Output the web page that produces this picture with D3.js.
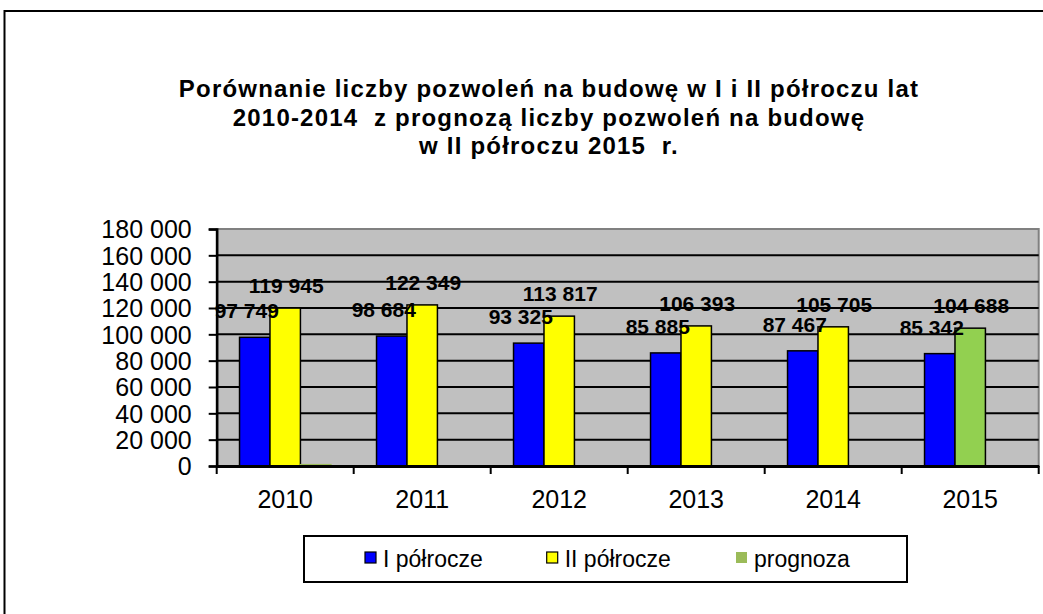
<!DOCTYPE html>
<html lang="pl">
<head>
    <meta charset="UTF-8">
    <title>Pozwolenia na budowę</title>
    <style>
        body {
            margin: 0;
            padding: 0;
            background-color: #ffffff;
        }
        svg text {
            font-family: Arial, "Liberation Sans", sans-serif;
            fill: #000;
        }
    </style>
    <script src="https://d3js.org/d3.v7.min.js"></script>
</head>
<body>
    <script>
        // dane
        const years = ["2010", "2011", "2012", "2013", "2014", "2015"];
        const seriesNames = ["I półrocze", "II półrocze", "prognoza"];
        const firstHalf = [97749, 98684, 93325, 85885, 87467, 85342];
        // w 2015 wartość II półrocza to prognoza (zielony słupek)
        const secondHalf = [119945, 122349, 113817, 106393, 105705, 104688];
        const forecastYears = ["2015"];
        const forecast = [1000, null, null, null, null, null];
        const yTicks = [0, 20000, 40000, 60000, 80000, 100000, 120000, 140000, 160000, 180000];
        const titleLines = [
            "Porównanie liczby pozwoleń na budowę w I i II półroczu lat",
            "2010-2014  z prognozą liczby pozwoleń na budowę",
            "w II półroczu 2015  r."
        ];

        const width = 1043;
        const height = 614;
        const colors = ["#0000FF", "#FFFF00", "#92D050"];
        const legendColors = ["#0000FF", "#FFFF00", "#9BBB59"];

        const plot = { left: 216.7, top: 229, right: 1038.7, bottom: 466 };

        const svg = d3.select("body").append("svg")
            .attr("width", width)
            .attr("height", height);

        // ramka wykresu
        svg.append("rect")
            .attr("x", 4.5).attr("y", 11)
            .attr("width", width + 10).attr("height", height + 10)
            .attr("fill", "none")
            .attr("stroke", "#000")
            .attr("stroke-width", 2);

        // tytuł
        svg.append("g").selectAll("text")
            .data(titleLines)
            .enter().append("text")
            .attr("x", 549)
            .attr("y", (d, i) => 97 + i * 28.5)
            .attr("text-anchor", "middle")
            .attr("xml:space", "preserve")
            .style("white-space", "pre")
            .style("font-weight", "bold")
            .style("font-size", "24px")
            .style("letter-spacing", "1.2px")
            .text(d => d);

        const x = d3.scaleBand()
            .domain(years)
            .range([plot.left, plot.right])
            .padding(0);

        const xs = d3.scaleBand()
            .domain(seriesNames)
            .range([0, x.bandwidth()])
            .paddingInner(0)
            .paddingOuter(0.75);

        const y = d3.scaleLinear()
            .domain([0, 180000])
            .range([plot.bottom, plot.top]);

        const pl = d3.formatLocale({ decimal: ",", thousands: " ", grouping: [3], currency: ["", ""] });
        const fmt = pl.format(",d");

        // tło obszaru wykresu
        svg.append("rect")
            .attr("x", plot.left).attr("y", plot.top)
            .attr("width", plot.right - plot.left)
            .attr("height", plot.bottom - plot.top)
            .attr("fill", "#C0C0C0")
            .attr("stroke", "#808080")
            .attr("stroke-width", 2);

        // linie siatki
        svg.append("g").selectAll("line")
            .data(yTicks.filter(t => t > 0 && t < 180000))
            .enter().append("line")
            .attr("x1", plot.left).attr("x2", plot.right)
            .attr("y1", d => y(d)).attr("y2", d => y(d))
            .attr("stroke", "#000")
            .attr("stroke-width", 2);

        // słupki
        const series = [firstHalf, secondHalf, forecast];
        const bars = [];
        series.forEach((vals, s) => {
            vals.forEach((v, i) => {
                if (v === null) return;
                const isForecast = s === 2 || (s === 1 && forecastYears.includes(years[i]));
                bars.push({ year: years[i], name: seriesNames[s], value: v, s: s, color: isForecast ? colors[2] : colors[s] });
            });
        });

        svg.append("g").selectAll("rect")
            .data(bars)
            .enter().append("rect")
            .attr("x", d => x(d.year) + xs(d.name))
            .attr("y", d => y(d.value))
            .attr("width", xs.bandwidth())
            .attr("height", d => y(0) - y(d.value))
            .attr("fill", d => d.color)
            .attr("stroke", d => d.value < 5000 ? "#9BBB59" : "#000")
            .attr("stroke-width", 1.5);

        // oś Y
        const yAxis = d3.axisLeft(y)
            .tickValues(yTicks)
            .tickSize(8)
            .tickPadding(17)
            .tickFormat(fmt);

        const gy = svg.append("g")
            .attr("transform", `translate(${plot.left},0)`)
            .call(yAxis);
        gy.select(".domain").attr("stroke", "#000").attr("stroke-width", 2.5);
        gy.selectAll(".tick line").attr("stroke", "#000").attr("stroke-width", 2);
        gy.selectAll(".tick text")
            .style("font-size", "25px")
            .attr("dy", "0.35em");

        // oś X
        const xAxis = d3.axisBottom(x).tickSize(0).tickPadding(24);
        const gx = svg.append("g")
            .attr("transform", `translate(0,${plot.bottom})`)
            .call(xAxis);
        gx.select(".domain").attr("stroke", "#000").attr("stroke-width", 3);
        gx.selectAll(".tick text").style("font-size", "25px");

        svg.append("g").selectAll("line")
            .data(years.concat(["end"]))
            .enter().append("line")
            .attr("x1", d => d === "end" ? plot.right : x(d))
            .attr("x2", d => d === "end" ? plot.right : x(d))
            .attr("y1", plot.bottom)
            .attr("y2", plot.bottom + 8)
            .attr("stroke", "#000")
            .attr("stroke-width", 2);

        // etykiety danych
        svg.append("g").selectAll("text")
            .data(bars.filter(d => d.value >= 5000))
            .enter().append("text")
            .attr("x", d => x(d.year) + xs(d.name) + xs.bandwidth() / 2 + (d.s === 0 ? -8 : 1))
            .attr("y", d => y(d.value) - (d.s === 0 ? 19 : 15))
            .attr("text-anchor", "middle")
            .style("font-weight", "bold")
            .style("font-size", "21px")
            .text(d => fmt(d.value));

        // legenda
        const legend = svg.append("g");
        legend.append("rect")
            .attr("x", 304).attr("y", 536)
            .attr("width", 603).attr("height", 46)
            .attr("fill", "#fff")
            .attr("stroke", "#000")
            .attr("stroke-width", 2);

        const legendX = [365, 546.7, 736];
        const items = legend.selectAll("g.item")
            .data(seriesNames)
            .enter().append("g")
            .attr("class", "item")
            .attr("transform", (d, i) => `translate(${legendX[i]},552)`);
        items.append("rect")
            .attr("width", 11).attr("height", 11)
            .attr("fill", (d, i) => legendColors[i])
            .attr("stroke", (d, i) => i < 2 ? "#000" : "none")
            .attr("stroke-width", 1.2);
        items.append("text")
            .attr("x", 18)
            .attr("y", 15)
            .style("font-size", "23px")
            .text(d => d);
    </script>
</body>
</html>
